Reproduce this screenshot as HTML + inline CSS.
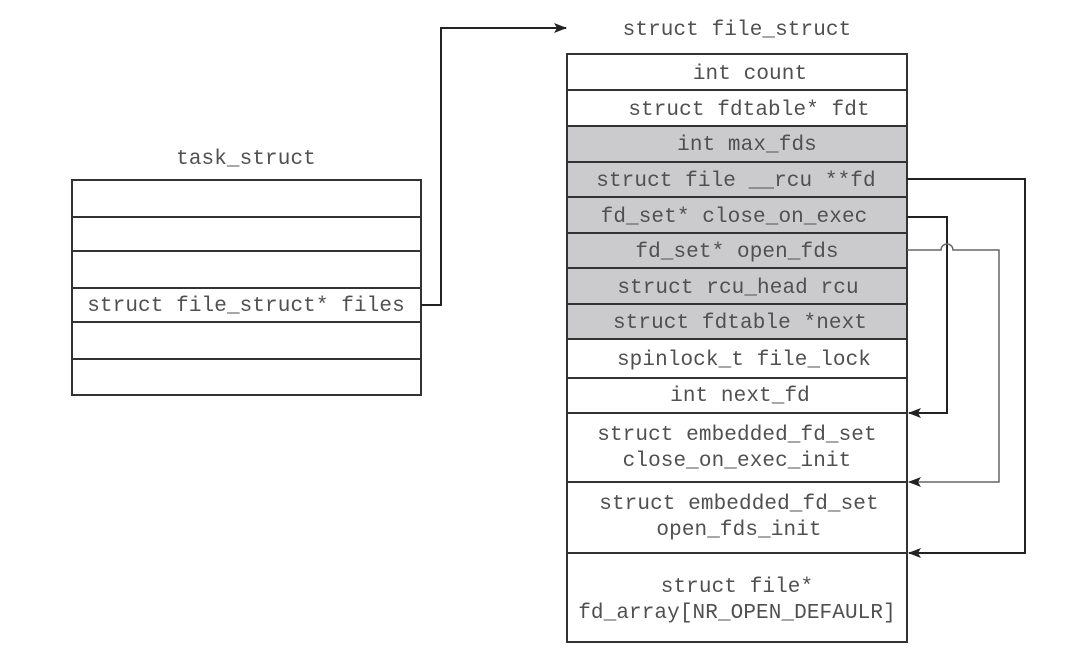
<!DOCTYPE html>
<html><head><meta charset="utf-8"><style>
html,body{margin:0;padding:0;background:#fff;}
svg text{font-family:"Liberation Mono","DejaVu Sans Mono",monospace;font-size:21px;letter-spacing:0.1px;fill:#505050;text-anchor:middle;}
</style></head><body>
<svg width="1065" height="653" viewBox="0 0 1065 653" xmlns="http://www.w3.org/2000/svg">
<defs><marker id="a" markerWidth="13" markerHeight="10" refX="12" refY="5" orient="auto" markerUnits="userSpaceOnUse"><path d="M0,0 L13,5 L0,10 L3,5 Z" fill="#222"/></marker></defs>
<text x="737" y="35">struct file_struct</text>
<text x="246" y="164">task_struct</text>
<g stroke="#333" stroke-width="2" fill="none">
<rect x="72" y="180" width="349" height="215" fill="#fff"/>
<line x1="72" y1="217" x2="421" y2="217"/>
<line x1="72" y1="251" x2="421" y2="251"/>
<line x1="72" y1="288" x2="421" y2="288"/>
<line x1="72" y1="322" x2="421" y2="322"/>
<line x1="72" y1="359" x2="421" y2="359"/>
</g>
<text x="246" y="311">struct file_struct* files</text>
<rect x="567" y="126" width="340" height="213" fill="#cbcbcd"/>
<g stroke="#333" stroke-width="2" fill="none">
<rect x="567" y="54" width="340" height="588"/>
<line x1="567" y1="90" x2="907" y2="90"/>
<line x1="567" y1="126" x2="907" y2="126"/>
<line x1="567" y1="162" x2="907" y2="162"/>
<line x1="567" y1="197" x2="907" y2="197"/>
<line x1="567" y1="233" x2="907" y2="233"/>
<line x1="567" y1="268" x2="907" y2="268"/>
<line x1="567" y1="304" x2="907" y2="304"/>
<line x1="567" y1="339" x2="907" y2="339"/>
<line x1="567" y1="378" x2="907" y2="378"/>
<line x1="567" y1="413" x2="907" y2="413"/>
<line x1="567" y1="482" x2="907" y2="482"/>
<line x1="567" y1="553" x2="907" y2="553"/>
</g>
<text x="750" y="79">int count</text>
<text x="749" y="115">struct fdtable* fdt</text>
<text x="747" y="150">int max_fds</text>
<text x="736" y="186">struct file __rcu **fd</text>
<text x="734" y="222">fd_set* close_on_exec</text>
<text x="737" y="257">fd_set* open_fds</text>
<text x="738" y="293">struct rcu_head rcu</text>
<text x="740" y="328">struct fdtable *next</text>
<text x="744" y="365">spinlock_t file_lock</text>
<text x="740" y="401">int next_fd</text>
<text x="737" y="440">struct embedded_fd_set</text>
<text x="737" y="466">close_on_exec_init</text>
<text x="739" y="509">struct embedded_fd_set</text>
<text x="739" y="535">open_fds_init</text>
<text x="737" y="592">struct file*</text>
<text x="737" y="618">fd_array[NR_OPEN_DEFAULR]</text>
<g stroke="#222" stroke-width="2" fill="none">
<polyline points="421,305 441,305 441,28 566,28" marker-end="url(#a)"/>
<polyline points="907,179 1025,179 1025,553 909,553" marker-end="url(#a)"/>
<polyline points="907,217 947,217 947,413 909,413" marker-end="url(#a)"/>
</g>
<g stroke="#666" stroke-width="1.5" fill="none">
<path d="M907,250 L941,250 A6,6 0 0 1 953,250 L999,250 L999,482 L909,482" marker-end="url(#a)"/>
</g>
</svg>
</body></html>
